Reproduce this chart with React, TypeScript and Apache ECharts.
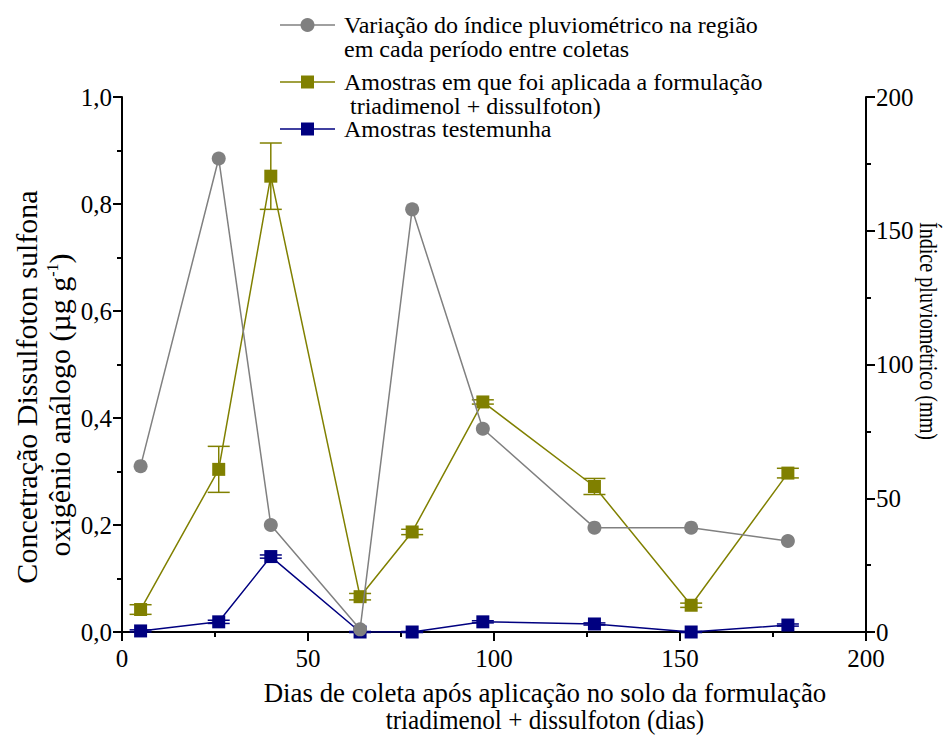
import React, { useEffect, useRef } from "react";
import * as echarts from "echarts";

const days = [5, 26, 40, 64, 78, 97, 127, 153, 179];
const rainfall = [62, 177, 40, 1, 158, 76, 39, 39, 34];
const treated = [0.042, 0.304, 0.852, 0.066, 0.187, 0.43, 0.272, 0.05, 0.297];
const treatedErr = [0.009, 0.043, 0.062, 0.006, 0.005, 0.004, 0.015, 0.004, 0.009];
const control = [0.002, 0.019, 0.141, 0.0, 0.0, 0.019, 0.015, 0.0, 0.013];
const controlErr = [0.002, 0.003, 0.003, 0.001, 0.001, 0.002, 0.002, 0.001, 0.002];

const legendLabels = [
  ["Variação do índice pluviométrico na região", "em cada período entre coletas"],
  ["Amostras em que foi aplicada a formulação", " triadimenol + dissulfoton)"],
  ["Amostras testemunha"],
];
const xTitle1 = "Dias de coleta após aplicação no solo da formulação";
const xTitle2 = "triadimenol + dissulfoton (dias)";
const yTitle1 = "Concetração Dissulfoton sulfona";
const yTitle2a = "oxigênio análogo (µg g";
const yTitle2sup = "-1";
const yTitle2b = ")";
const y2Title = "Índice pluviométrico (mm)";

const GRAY = "#808080";
const OLIVE = "#808000";
const NAVY = "#000080";
const FONT = "Liberation Serif";

function errSeries(vals: number[], errs: number[], color: string) {
  return {
    type: "custom",
    xAxisIndex: 0,
    yAxisIndex: 0,
    z: 2,
    silent: true,
    clip: false,
    data: days.map((d, i) => [d, vals[i], errs[i]]),
    renderItem: (params: any, api: any) => {
      const x = api.value(0);
      const y = api.value(1);
      const e = api.value(2);
      const top = api.coord([x, y + e]);
      const bot = api.coord([x, y - e]);
      const hw = 11;
      const st = { stroke: color, lineWidth: 1.5 };
      return {
        type: "group",
        children: [
          { type: "line", shape: { x1: top[0], y1: top[1], x2: bot[0], y2: bot[1] }, style: st },
          { type: "line", shape: { x1: top[0] - hw, y1: top[1], x2: top[0] + hw, y2: top[1] }, style: st },
          { type: "line", shape: { x1: bot[0] - hw, y1: bot[1], x2: bot[0] + hw, y2: bot[1] }, style: st },
        ],
      };
    },
  };
}

function txt(text: string, x: number, y: number, extra: any = {}, el: any = {}) {
  return {
    type: "text",
    x,
    y,
    ...el,
    style: {
      text,
      fontFamily: FONT,
      fontSize: 24,
      lineHeight: 22,
      fill: "#000",
      textAlign: "left",
      verticalAlign: "middle",
      ...extra,
    },
  };
}

export default function App() {
  const ref = useRef<HTMLDivElement>(null);
  useEffect(() => {
    if (!ref.current) return;
    const chart = echarts.init(ref.current, null, { renderer: "svg" });
    const axisLine = { show: true, onZero: false, lineStyle: { color: "#000", width: 2 } };
    const axisTick = { show: true, inside: false, length: 9, lineStyle: { color: "#000", width: 2 } };
    const minorTick = { show: true, splitNumber: 2, length: 5, lineStyle: { color: "#000", width: 2 } };
    const labelStyle = { color: "#000", fontFamily: FONT, fontSize: 25 };

    const legendY = [25, 82, 129];
    const legendColors = [GRAY, OLIVE, NAVY];
    const legendGraphics: any[] = [];
    legendY.forEach((y, i) => {
      legendGraphics.push({
        type: "line",
        shape: { x1: 280, y1: y, x2: 335, y2: y },
        style: { stroke: legendColors[i], lineWidth: 1.5 },
      });
      if (i === 0) {
        legendGraphics.push({
          type: "circle",
          shape: { cx: 307.5, cy: y, r: 7 },
          style: { fill: GRAY },
        });
      } else {
        legendGraphics.push({
          type: "rect",
          shape: { x: 301, y: y - 6.5, width: 13, height: 13 },
          style: { fill: legendColors[i] },
        });
      }
      legendLabels[i].forEach((line, j) => {
        legendGraphics.push(txt(line, 344, y + j * 23.5));
      });
    });

    chart.setOption({
      animation: false,
      backgroundColor: "#fff",
      grid: { left: 122, right: 86, top: 97, bottom: 104, containLabel: false },
      xAxis: {
        type: "value",
        min: 0,
        max: 200,
        interval: 50,
        axisLine,
        axisTick,
        minorTick,
        splitLine: { show: false },
        axisLabel: { ...labelStyle, margin: 14 },
      },
      yAxis: [
        {
          type: "value",
          min: 0,
          max: 1,
          interval: 0.2,
          position: "left",
          axisLine,
          axisTick,
          minorTick,
          splitLine: { show: false },
          axisLabel: {
            ...labelStyle,
            margin: 10,
            formatter: (v: number) => v.toFixed(1).replace(".", ","),
          },
        },
        {
          type: "value",
          min: 0,
          max: 200,
          interval: 50,
          position: "right",
          axisLine,
          axisTick,
          minorTick,
          splitLine: { show: false },
          axisLabel: { ...labelStyle, margin: 10 },
        },
      ],
      graphic: [
        ...legendGraphics,
        txt(xTitle1, 545, 693, { textAlign: "center", fontSize: 28, lineHeight: 26 }, { scaleX: 0.96 }),
        txt(xTitle2, 545, 720, { textAlign: "center", fontSize: 28, lineHeight: 26 }, { scaleX: 0.9 }),
        {
          type: "text",
          x: 26,
          y: 387,
          rotation: Math.PI / 2,
          style: {
            text: yTitle1,
            fontFamily: FONT,
            fontSize: 30,
            lineHeight: 28,
            fill: "#000",
            textAlign: "center",
            verticalAlign: "middle",
          },
        },
        {
          type: "text",
          x: 59,
          y: 405,
          rotation: Math.PI / 2,
          style: {
            text: `{n|${yTitle2a}}{s|${yTitle2sup}}{n|${yTitle2b}}`,
            fontFamily: FONT,
            fill: "#000",
            textAlign: "center",
            verticalAlign: "middle",
            rich: {
              n: { fontFamily: FONT, fontSize: 30, fill: "#000", verticalAlign: "bottom", lineHeight: 30 },
              s: { fontFamily: FONT, fontSize: 16, fill: "#000", verticalAlign: "top", lineHeight: 30 },
            },
          },
        },
        {
          type: "text",
          x: 929,
          y: 331,
          rotation: -Math.PI / 2,
          scaleX: 0.775,
          style: {
            text: y2Title,
            fontFamily: FONT,
            fontSize: 26,
            fill: "#000",
            textAlign: "center",
            verticalAlign: "middle",
          },
        },
      ],
      series: [
        errSeries(control, controlErr, NAVY),
        {
          name: "Amostras testemunha",
          type: "line",
          xAxisIndex: 0,
          yAxisIndex: 0,
          z: 3,
          data: days.map((d, i) => [d, control[i]]),
          symbol: "rect",
          symbolSize: 13,
          itemStyle: { color: NAVY },
          lineStyle: { color: NAVY, width: 1.5 },
        },
        errSeries(treated, treatedErr, OLIVE),
        {
          name: "Amostras em que foi aplicada a formulação triadimenol + dissulfoton)",
          type: "line",
          xAxisIndex: 0,
          yAxisIndex: 0,
          z: 4,
          data: days.map((d, i) => [d, treated[i]]),
          symbol: "rect",
          symbolSize: 13,
          itemStyle: { color: OLIVE },
          lineStyle: { color: OLIVE, width: 1.5 },
        },
        {
          name: "Variação do índice pluviométrico na região em cada período entre coletas",
          type: "line",
          xAxisIndex: 0,
          yAxisIndex: 1,
          z: 5,
          data: days.map((d, i) => [d, rainfall[i]]),
          symbol: "circle",
          symbolSize: 14,
          itemStyle: { color: GRAY },
          lineStyle: { color: GRAY, width: 1.5 },
        },
      ],
    });
    return () => chart.dispose();
  }, []);
  return (
    <div
      ref={ref}
      style={{ position: "fixed", left: 0, top: 0, width: 952, height: 736, background: "#fff" }}
    />
  );
}
